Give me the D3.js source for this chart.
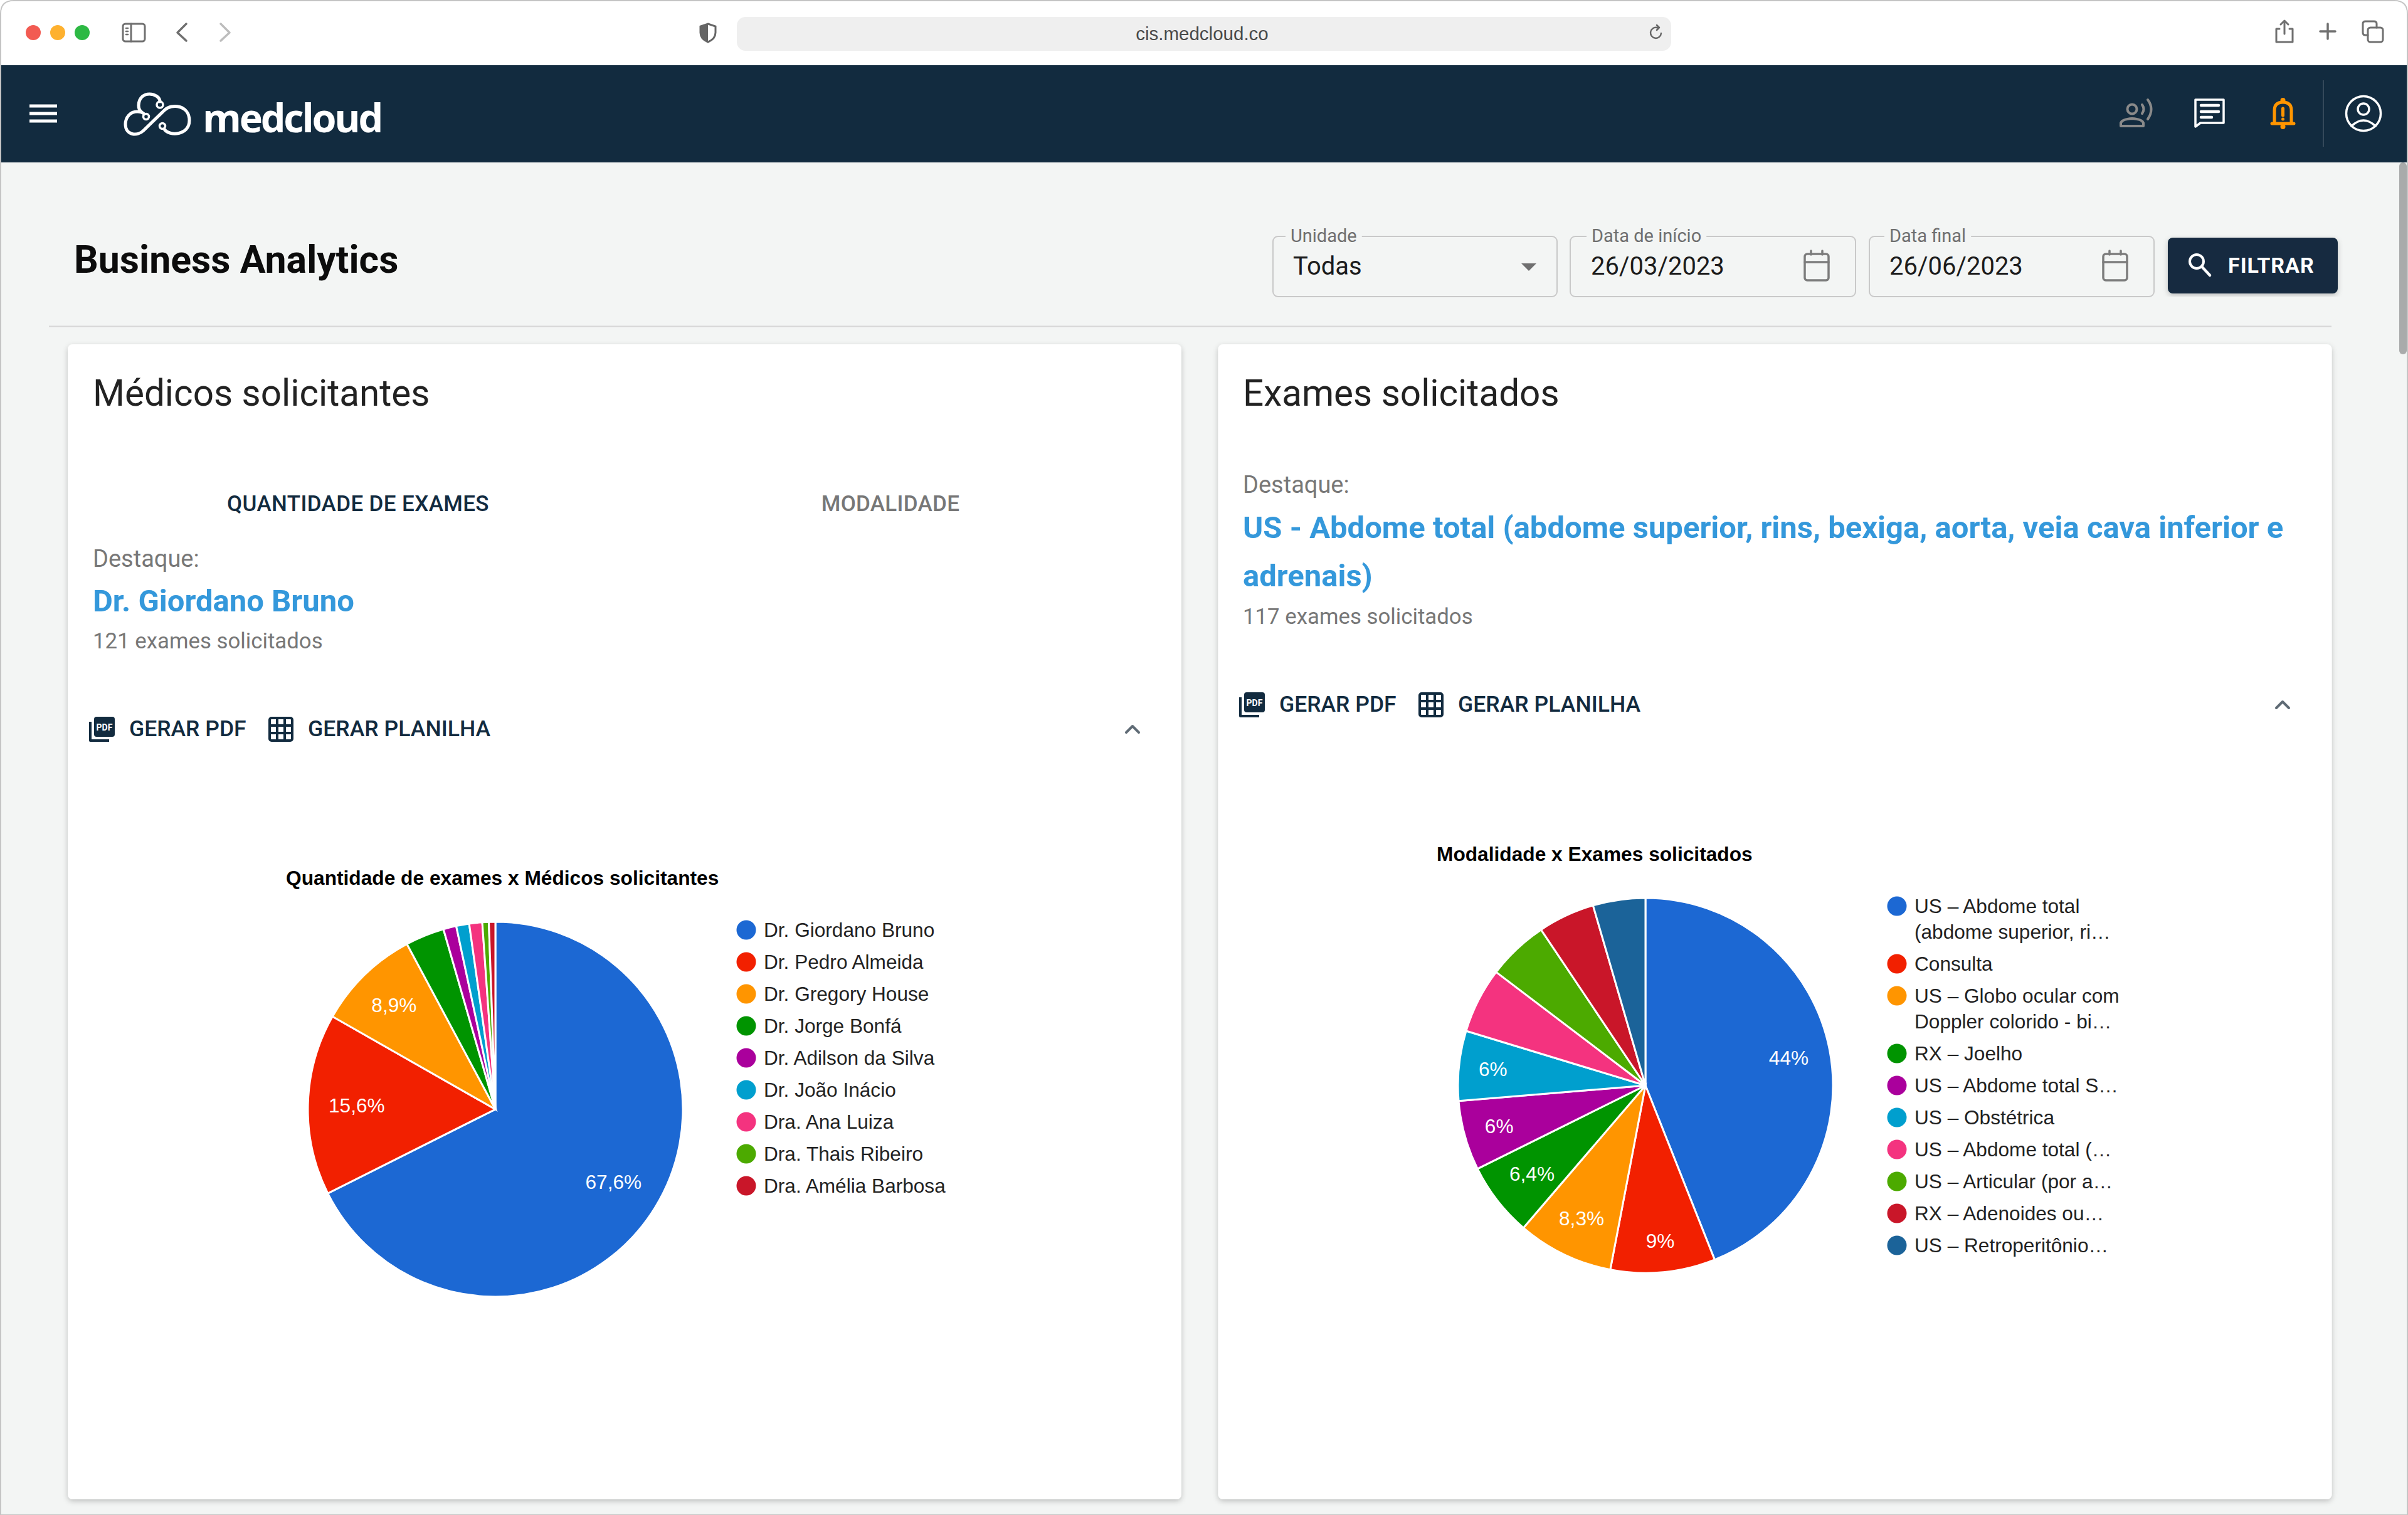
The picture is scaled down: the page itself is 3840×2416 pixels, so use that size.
<!DOCTYPE html>
<html>
<head>
<meta charset="utf-8">
<title>Business Analytics</title>
<script src="https://cdn.jsdelivr.net/npm/d3@7"></script>
<style>
  html, body { margin: 0; padding: 0; background: #fff; }
  svg { display: block; }
  text { font-family: Roboto, sans-serif; }
  .chart text { font-family: "Liberation Sans", Arial, sans-serif; }
</style>
</head>
<body>
<div id="page"></div>
<script>
// left chart data
var medicosNomes = ["Dr. Giordano Bruno", "Dr. Pedro Almeida", "Dr. Gregory House", "Dr. Jorge Bonfá", "Dr. Adilson da Silva", "Dr. João Inácio", "Dra. Ana Luiza", "Dra. Thais Ribeiro", "Dra. Amélia Barbosa"];
var medicosExames = [121, 28, 16, 6, 2, 2, 2, 1, 1];

// right chart data - legend entries wrap on two lines like the original
var examesNomes = [
  ["US – Abdome total", "(abdome superior, ri…"],
  ["Consulta"],
  ["US – Globo ocular com", "Doppler colorido - bi…"],
  ["RX – Joelho"],
  ["US – Abdome total S…"],
  ["US – Obstétrica"],
  ["US – Abdome total (…"],
  ["US – Articular (por a…"],
  ["RX – Adenoides ou…"],
  ["US – Retroperitônio…"]
];
var examesQtd = [117, 24, 22, 17, 16, 16, 15, 14, 13, 12];

var cores = ["#1c68d3", "#f22000", "#ff9500", "#009400", "#aa009c", "#009fce", "#f4337f", "#4caa00", "#c91629", "#1b6399"];

var navy = "#122b3f";
var fundo = "#f3f5f4";
var cinza = "#777777";
var azul = "#3498db";

var svg = d3.select("#page").append("svg").attr("width", 3840).attr("height", 2416);
var defs = svg.append("defs");
var sombra = defs.append("filter").attr("id", "sombra").attr("x", "-5%").attr("y", "-5%").attr("width", "110%").attr("height", "110%");
sombra.append("feDropShadow").attr("dx", 0).attr("dy", 3).attr("stdDeviation", 4).attr("flood-color", "#000").attr("flood-opacity", 0.22);

// writes a text element and returns it
function texto(x, y, str, size, color, weight, anchor) {
  return svg.append("text")
    .attr("x", x).attr("y", y)
    .attr("font-size", size)
    .attr("fill", color)
    .attr("font-weight", weight || 400)
    .attr("text-anchor", anchor || "start")
    .text(str);
}

// stroke only path for the small icons
function linha(d, color, width) {
  return svg.append("path").attr("d", d).attr("fill", "none")
    .attr("stroke", color).attr("stroke-width", width)
    .attr("stroke-linecap", "round").attr("stroke-linejoin", "round");
}

function caixa(x, y, w, h, r, fill) {
  return svg.append("rect").attr("x", x).attr("y", y).attr("width", w).attr("height", h).attr("rx", r).attr("fill", fill);
}

// ---- window and browser bar
svg.append("rect").attr("width", 3840).attr("height", 2416).attr("fill", "#fff");
svg.append("path").attr("d", "M1,2416 V22 Q1,1 22,1 H3818 Q3839,1 3839,22 V2416 Z").attr("fill", fundo).attr("stroke", "#c4c4c4").attr("stroke-width", 2);
svg.append("path").attr("d", "M2,104 V22 Q2,2 22,2 H3818 Q3838,2 3838,22 V104 Z").attr("fill", "#fff");
caixa(2, 104, 3836, 155, 0, navy);
caixa(3826, 259, 12, 306, 6, "#a9abab");

[[53, "#f25b52"], [92, "#feb12f"], [131, "#2db944"]].forEach(function (b) {
  svg.append("circle").attr("cx", b[0]).attr("cy", 52).attr("r", 12).attr("fill", b[1]);
});
svg.append("rect").attr("x", 196).attr("y", 38).attr("width", 35).attr("height", 28).attr("rx", 4).attr("fill", "none").attr("stroke", "#707070").attr("stroke-width", 3);
linha("M209,38 V66", "#707070", 3);
linha("M201,45 H204 M201,50 H204 M201,55 H204", "#707070", 2.5);
linha("M297,38 L283,52 L297,65", "#707070", 3.5);
linha("M352,38 L366,52 L352,65", "#bdbdbd", 3.5);

caixa(1175, 27, 1490, 54, 14, "#efefef");
texto(1917, 64, "cis.medcloud.co", 29.5, "#4a4a4a", 400, "middle").style("font-family", "'Liberation Sans', sans-serif");
svg.append("path").attr("d", "M1129,38 L1141,42 V52 Q1141,62 1129,67 Q1117,62 1117,52 V42 Z").attr("fill", "none").attr("stroke", "#666").attr("stroke-width", 3);
svg.append("path").attr("d", "M1129,38 L1117,42 V52 Q1117,62 1129,67 Z").attr("fill", "#666");
linha("M2649,53 A8.5,8.5 0 1 1 2642,44 H2646 M2642,40 L2646,44 L2642,48", "#666", 2.5);

linha("M3635,46 H3630 V67 H3656 V46 H3651 M3643,54 V33 M3637,39 L3643,33 L3649,39", "#707070", 3);
linha("M3700,50 H3724 M3712,38 V62", "#707070", 3.5);
svg.append("rect").attr("x", 3776).attr("y", 44).attr("width", 24).attr("height", 23).attr("rx", 4).attr("fill", "none").attr("stroke", "#707070").attr("stroke-width", 3);
linha("M3776,56 H3772 Q3768,56 3768,52 V38 Q3768,34 3772,34 H3786 Q3790,34 3790,38 V44", "#707070", 3);

// ---- navy header
linha("M47,169 H91 M47,181 H91 M47,193 H91", "#fff", 5).attr("stroke-linecap", "butt");
linha("M255,162 C255,148 222,142 221,168 C221,172 222,176 226,179 C206,174 200,190 200,198 C200,216 219,218 229,208 L262,176 C274,164 302,168 302,192 C302,216 270,218 262,206", "#fff", 5);
linha("M226,179 L229,181", "#fff", 5);
[[255, 167, 5], [233, 186, 4.5], [259, 201, 4.5]].forEach(function (c) {
  svg.append("circle").attr("cx", c[0]).attr("cy", c[1]).attr("r", c[2]).attr("fill", "none").attr("stroke", "#fff").attr("stroke-width", 3.5);
});
texto(323, 211, "medcloud", 63, "#fff", 700).attr("letter-spacing", -3.2).style("font-family", "'Open Sans', sans-serif");

// person with voice waves
svg.append("circle").attr("cx", 3400).attr("cy", 174).attr("r", 7.5).attr("fill", "none").attr("stroke", "#8a8a8a").attr("stroke-width", 4);
linha("M3382,201 V196 Q3384,190 3400,189 Q3416,190 3418,196 V201 Z", "#8a8a8a", 4);
linha("M3416,167 Q3421,174 3416,181 M3425,159 Q3436,174 3425,190", "#8a8a8a", 4);
// chat
linha("M3501,159 H3546 V196 H3509 L3501,202 Z", "#fff", 3.5);
linha("M3510,168 H3538 M3510,178 H3538 M3510,187 H3527", "#fff", 4.5);
// bell
linha("M3627,195 V176 Q3627,163 3640.5,163 Q3654,163 3654,176 V195 M3623,197 H3658", "#ff9500", 5);
linha("M3640.5,173 V184", "#ff9500", 5);
svg.append("circle").attr("cx", 3640.5).attr("cy", 190).attr("r", 2.5).attr("fill", "#ff9500");
svg.append("circle").attr("cx", 3640.5).attr("cy", 160).attr("r", 4).attr("fill", "#ff9500");
svg.append("circle").attr("cx", 3640.5).attr("cy", 202).attr("r", 4).attr("fill", "#ff9500");
// divider and user
svg.append("line").attr("x1", 3705).attr("x2", 3705).attr("y1", 128).attr("y2", 234).attr("stroke", "#35495a").attr("stroke-width", 2);
svg.append("circle").attr("cx", 3769).attr("cy", 181).attr("r", 27.5).attr("fill", "none").attr("stroke", "#fff").attr("stroke-width", 3.5);
svg.append("circle").attr("cx", 3769).attr("cy", 174).attr("r", 9).attr("fill", "none").attr("stroke", "#fff").attr("stroke-width", 3.5);
linha("M3750,201 Q3769,183 3788,201", "#fff", 3.5);

// ---- page title and filters
texto(118, 435, "Business Analytics", 60.8, "#0c0c0c", 700);

function campo(x, w, rotuloX, rotulo, valorX, valor) {
  svg.append("rect").attr("x", x).attr("y", 377).attr("width", w).attr("height", 96).attr("rx", 8)
    .attr("fill", "none").attr("stroke", "#c9c9c9").attr("stroke-width", 2);
  var t = texto(rotuloX, 386, rotulo, 29, "#6f6f6f");
  var largura = t.node().getComputedTextLength();
  caixa(rotuloX - 8, 372, largura + 16, 10, 0, fundo);
  t.raise();
  texto(valorX, 438, valor, 40, "#1c1c1c");
}
campo(2030, 453, 2058, "Unidade", 2062, "Todas");
campo(2504, 455, 2538, "Data de início", 2537, "26/03/2023");
campo(2981, 454, 3013, "Data final", 3013, "26/06/2023");
svg.append("path").attr("d", "M2426,420 H2450 L2438,432 Z").attr("fill", "#6f6f6f");

function calendario(x) {
  svg.append("rect").attr("x", x + 2).attr("y", 405).attr("width", 38).attr("height", 42).attr("rx", 4)
    .attr("fill", "none").attr("stroke", "#7c7c7c").attr("stroke-width", 3.5);
  linha("M" + (x + 2) + ",418 H" + (x + 40) + " M" + (x + 12) + ",400 V406 M" + (x + 30) + ",400 V406", "#7c7c7c", 3.5);
}
calendario(2876);
calendario(3352);

caixa(3457, 379, 271, 89, 8, navy).attr("filter", "url(#sombra)");
svg.append("circle").attr("cx", 3503).attr("cy", 417).attr("r", 11).attr("fill", "none").attr("stroke", "#fff").attr("stroke-width", 4);
linha("M3511,425 L3524,439", "#fff", 4.5);
texto(3553, 435, "FILTRAR", 34, "#fff", 700).attr("letter-spacing", 1);

svg.append("line").attr("x1", 78).attr("x2", 3718).attr("y1", 520.5).attr("y2", 520.5).attr("stroke", "#d6d6d6").attr("stroke-width", 2);

// ---- cards
function botoes(dx, y) {
  // y is the middle of the row
  var c = navy;
  caixa(dx + 150, y - 20, 33, 32, 4, c);
  linha("M" + (dx + 144) + "," + (y - 12) + " V" + (y + 18) + " H" + (dx + 174), c, 4).attr("stroke-linecap", "butt");
  texto(dx + 166.5, y + 2, "PDF", 14, "#fff", 700, "middle");
  texto(dx + 206, y + 11, "GERAR PDF", 35.5, c, 500);
  // planilha icon
  svg.append("rect").attr("x", dx + 430).attr("y", y - 18).attr("width", 36).attr("height", 36).attr("rx", 3)
    .attr("fill", "none").attr("stroke", c).attr("stroke-width", 4);
  linha("M" + (dx + 442) + "," + (y - 18) + " V" + (y + 18) + " M" + (dx + 454) + "," + (y - 18) + " V" + (y + 18) +
    " M" + (dx + 430) + "," + (y - 6) + " H" + (dx + 466) + " M" + (dx + 430) + "," + (y + 6) + " H" + (dx + 466), c, 4).attr("stroke-linecap", "butt");
  texto(dx + 491, y + 11, "GERAR PLANILHA", 35.6, c, 500);
  linha("M" + (dx + 1796) + "," + (y + 5) + " L" + (dx + 1806) + "," + (y - 5) + " L" + (dx + 1816) + "," + (y + 5), "#5f6b75", 4);
}

caixa(108, 549, 1776, 1842, 8, "#fff").attr("filter", "url(#sombra)");
caixa(1942.5, 549, 1776, 1842, 8, "#fff").attr("filter", "url(#sombra)");

texto(148, 647, "Médicos solicitantes", 58.4, "#222");
texto(571, 815, "QUANTIDADE DE EXAMES", 35, navy, 500, "middle").attr("letter-spacing", 0.37);
texto(1420, 815, "MODALIDADE", 35, cinza, 500, "middle").attr("letter-spacing", 0.3);
texto(148, 904, "Destaque:", 38, cinza);
texto(148, 975, "Dr. Giordano Bruno", 49, azul, 700);
texto(148, 1034, "121 exames solicitados", 34.8, cinza);
botoes(0, 1163);

texto(1982, 647, "Exames solicitados", 58.4, "#222");
texto(1982, 786, "Destaque:", 38, cinza);
texto(1982, 858, "US - Abdome total (abdome superior, rins, bexiga, aorta, veia cava inferior e", 49, azul, 700);
texto(1982, 935, "adrenais)", 49, azul, 700);
texto(1982, 995, "117 exames solicitados", 34.8, cinza);
botoes(1834, 1124);

// ---- pie charts
function percentual(v, total) {
  var p = Math.round(v / total * 1000) / 10;
  return String(p).replace(".", ",") + "%";
}

function desenhaPizza(cfg) {
  var g = svg.append("g").attr("class", "chart");
  var total = d3.sum(cfg.valores);
  var raio = 299;
  var pie = d3.pie().sort(null).value(function (d) { return d; });
  var arco = d3.arc().innerRadius(0).outerRadius(raio);
  var fatias = pie(cfg.valores);

  g.append("text").attr("x", cfg.tituloX).attr("y", cfg.tituloY)
    .attr("font-size", 31.7).attr("font-weight", 700).attr("fill", "#000").text(cfg.titulo);

  var centro = g.append("g").attr("transform", "translate(" + cfg.cx + "," + cfg.cy + ")");
  centro.selectAll("path").data(fatias).enter().append("path")
    .attr("d", arco)
    .attr("fill", function (d, i) { return cores[i]; })
    .attr("stroke", "#fff").attr("stroke-width", 3);

  // only the slices with room get a label, each one pushed out by its own fraction of the radius
  centro.selectAll("text").data(fatias.filter(function (d) { return d.value / total >= 0.059; })).enter().append("text")
    .attr("transform", function (d) {
      var k = raio * cfg.rotuloRaio[d.index];
      return "translate(" + d3.arc().innerRadius(k).outerRadius(k).centroid(d) + ")";
    })
    .attr("text-anchor", "middle").attr("dy", "0.35em")
    .attr("font-size", 31.6).attr("fill", "#fff")
    .text(function (d) { return percentual(d.value, total); });

  // legend, one step per entry plus one line per extra row of text
  var y = cfg.legY;
  cfg.nomes.forEach(function (linhas, i) {
    g.append("circle").attr("cx", cfg.legX).attr("cy", y).attr("r", 15.5).attr("fill", cores[i]);
    linhas.forEach(function (l, j) {
      g.append("text").attr("x", cfg.legX + 28).attr("y", y + j * 41).attr("dy", "0.35em")
        .attr("font-size", 31.6).attr("fill", "#222").text(l);
    });
    y += 51 + (linhas.length - 1) * 41;
  });
}

desenhaPizza({
  titulo: "Quantidade de exames x Médicos solicitantes",
  tituloX: 456, tituloY: 1411,
  valores: medicosExames,
  nomes: medicosNomes.map(function (n) { return [n]; }),
  rotuloRaio: [0.74, 0.74, 0.775],
  cx: 790, cy: 1769,
  legX: 1190, legY: 1483
});

desenhaPizza({
  titulo: "Modalidade x Exames solicitados",
  tituloX: 2291, tituloY: 1373,
  valores: examesQtd,
  nomes: examesNomes,
  rotuloRaio: [0.778, 0.833, 0.786, 0.767, 0.81, 0.818],
  cx: 2624, cy: 1731,
  legX: 3025, legY: 1445
});
</script>
</body>
</html>
